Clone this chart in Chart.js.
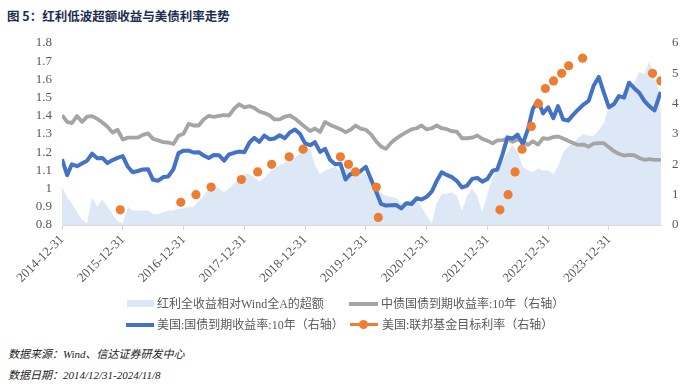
<!DOCTYPE html>
<html>
<head>
<meta charset="utf-8">
<script src="https://cdn.jsdelivr.net/npm/chart.js@4.4.1/dist/chart.umd.min.js"></script>
<style>
  body { margin: 0; background: #fff; width: 700px; height: 389px; position: relative; overflow: hidden; font-family: "Noto Sans CJK SC", sans-serif; }
  #title { position: absolute; left: 7px; top: 6px; font-size: 12.5px; font-weight: bold; color: #1c2d4f; white-space: nowrap; }
  #chartBox { position: absolute; left: 0; top: 0; width: 700px; height: 300px; }
  .sw { position: absolute; }
  .lg { position: absolute; font-family: "Liberation Serif", "Noto Sans CJK SC", serif; font-size: 12px; color: #595959; line-height: 16px; white-space: nowrap; }
  .note { position: absolute; left: 8px; font-family: "Liberation Serif", "Noto Sans CJK SC", serif; font-style: italic; font-size: 11px; color: #222; line-height: 14px; white-space: nowrap; }
</style>
</head>
<body>
<div id="title">图 5：红利低波超额收益与美债利率走势</div>
<div id="chartBox"><canvas id="chart" width="700" height="300"></canvas></div>

<div class="sw" style="left:127px;top:300px;width:27px;height:7px;background:#dce8f5"></div>
<div class="lg" style="left:157px;top:296px">红利全收益相对Wind全A的超额</div>
<div class="sw" style="left:349px;top:302px;width:29px;height:4px;background:#a5a5a5"></div>
<div class="lg" style="left:381px;top:296px">中债国债到期收益率:10年（右轴）</div>

<div class="sw" style="left:126px;top:323px;width:28px;height:4px;background:#4472c4"></div>
<div class="lg" style="left:157px;top:317px">美国:国债到期收益率:10年（右轴）</div>
<div class="sw" style="left:350px;top:323px;width:28px;height:3px;background:#ed7d31"></div>
<div class="sw" style="left:359px;top:320px;width:9px;height:9px;border-radius:50%;background:#ed7d31"></div>
<div class="lg" style="left:382px;top:317px">美国:联邦基金目标利率（右轴）</div>

<div class="note" style="top:347px">数据来源：Wind、信达证券研发中心</div>
<div class="note" style="top:368px">数据日期：2014/12/31-2024/11/8</div>

<script>
// x tick labels (year ends)
const tickLabels = ['2014-12-31', '2015-12-31', '2016-12-31', '2017-12-31', '2018-12-31',
  '2019-12-31', '2020-12-31', '2021-12-31', '2022-12-31', '2023-12-31'];
const leftTicks = [0.8, 0.9, 1, 1.1, 1.2, 1.3, 1.4, 1.5, 1.6, 1.7, 1.8];
const rightTicks = [0, 1, 2, 3, 4, 5, 6];

const startDate = '2014-12-31';
const lastDate = '2024-11-08';

// month-end readings, 2014-12 .. 2024-10, then the last day 2024-11-08
const excessReturn = [1.01,
  0.95, 0.92, 0.87, 0.83, 0.81, 0.95, 0.90, 0.94, 0.90, 0.86, 0.82, 0.81,
  0.90, 0.88, 0.88, 0.88, 0.88, 0.86, 0.86, 0.87, 0.88, 0.88, 0.89, 0.89,
  0.90, 0.90, 0.93, 0.96, 1.00, 1.02, 1.00, 0.98, 1.00, 1.03, 1.05, 1.08,
  1.08, 1.06, 1.04, 1.06, 1.09, 1.11, 1.13, 1.14, 1.16, 1.17, 1.19, 1.21,
  1.22, 1.13, 1.08, 1.10, 1.11, 1.12, 1.09, 1.11, 1.11, 1.10, 1.09, 1.08,
  1.03, 1.00, 0.98, 0.96, 0.955, 0.95, 0.92, 0.93, 0.94, 0.94, 0.90, 0.85,
  0.81, 0.92, 0.97, 0.97, 0.98, 0.96, 0.88, 0.96, 1.00, 0.96, 0.87, 0.97,
  1.06, 1.10, 1.15, 1.20, 1.24, 1.20, 1.12, 1.10, 1.09, 1.11, 1.10, 1.10,
  1.08, 1.12, 1.20, 1.23, 1.25, 1.28, 1.30, 1.29, 1.29, 1.32, 1.36, 1.45,
  1.49, 1.51, 1.54, 1.56, 1.58, 1.64, 1.63, 1.70, 1.62, 1.52,
  1.38];

const cnYield = [3.62,
  3.40, 3.36, 3.59, 3.40, 3.57, 3.59, 3.50, 3.38, 3.24, 3.05, 3.14, 2.82,
  2.88, 2.88, 2.88, 2.97, 3.02, 2.84, 2.79, 2.73, 2.72, 2.67, 2.94, 3.01,
  3.34, 3.28, 3.28, 3.48, 3.60, 3.56, 3.60, 3.62, 3.61, 3.84, 3.98, 3.88,
  3.92, 3.86, 3.74, 3.69, 3.62, 3.48, 3.48, 3.57, 3.61, 3.51, 3.37, 3.23,
  3.10, 3.18, 3.07, 3.40, 3.30, 3.23, 3.16, 3.06, 3.14, 3.28, 3.18, 3.14,
  2.99, 2.77, 2.59, 2.51, 2.71, 2.85, 2.96, 3.06, 3.15, 3.19, 3.28, 3.15,
  3.19, 3.28, 3.19, 3.16, 3.09, 3.08, 2.86, 2.86, 2.88, 2.95, 2.84, 2.78,
  2.69, 2.79, 2.80, 2.84, 2.74, 2.82, 2.76, 2.64, 2.76, 2.65, 2.86, 2.84,
  2.90, 2.92, 2.85, 2.78, 2.70, 2.64, 2.65, 2.58, 2.68, 2.70, 2.70, 2.56,
  2.43, 2.35, 2.29, 2.31, 2.30, 2.21, 2.15, 2.17, 2.15, 2.15,
  2.12];

const usYield = [2.17,
  1.64, 2.00, 1.94, 2.03, 2.12, 2.35, 2.20, 2.21, 2.04, 2.14, 2.21, 2.27,
  1.92, 1.74, 1.78, 1.83, 1.84, 1.49, 1.46, 1.58, 1.60, 1.84, 2.37, 2.45,
  2.45, 2.39, 2.40, 2.29, 2.21, 2.31, 2.30, 2.12, 2.33, 2.38, 2.42, 2.40,
  2.72, 2.87, 2.74, 2.95, 2.83, 2.85, 2.96, 2.86, 3.05, 3.15, 3.01, 2.69,
  2.63, 2.73, 2.41, 2.51, 2.14, 2.00, 2.02, 1.50, 1.68, 1.69, 1.78, 1.92,
  1.51, 1.13, 0.70, 0.64, 0.65, 0.66, 0.55, 0.72, 0.69, 0.88, 0.84, 0.93,
  1.11, 1.44, 1.74, 1.65, 1.58, 1.45, 1.24, 1.30, 1.52, 1.55, 1.43, 1.52,
  1.79, 1.83, 2.32, 2.89, 2.85, 2.98, 2.67, 3.15, 3.83, 4.10, 3.68, 3.88,
  3.52, 3.92, 3.48, 3.44, 3.64, 3.81, 3.97, 4.09, 4.59, 4.88, 4.37, 3.88,
  3.99, 4.25, 4.20, 4.69, 4.51, 4.36, 4.09, 3.91, 3.78, 4.28,
  4.38];

// fed funds target (upper bound) at each change
const fedDates = ['2015-12-16', '2016-12-14', '2017-03-15', '2017-06-14', '2017-12-13',
  '2018-03-21', '2018-06-13', '2018-09-26', '2018-12-19', '2019-07-31', '2019-09-18',
  '2019-10-30', '2020-03-03', '2020-03-15', '2022-03-16', '2022-05-04', '2022-06-15',
  '2022-07-27', '2022-09-21', '2022-11-02', '2022-12-14', '2023-02-01', '2023-03-22',
  '2023-05-03', '2023-07-26', '2024-09-18', '2024-11-07'];
const fedRate = [0.5, 0.75, 1.0, 1.25, 1.5, 1.75, 2.0, 2.25, 2.5, 2.25, 2.0, 1.75, 1.25, 0.25,
  0.5, 1.0, 1.75, 2.5, 3.25, 4.0, 4.5, 4.75, 5.0, 5.25, 5.5, 5.0, 4.75];

const tickFont = { family: 'Liberation Serif', size: 13 };
const tickColor = '#595959';

// x positions of the monthly readings: month ends, last one is the final date
const lineX = usYield.map((v, i) => i < usYield.length - 1 ? Date.UTC(2015, i, 0) : Date.parse(lastDate));
const toPoints = vals => vals.map((v, i) => ({ x: lineX[i], y: v }));

new Chart(document.getElementById('chart'), {
  type: 'line',
  data: {
    datasets: [
      {
        label: '美国:联邦基金目标利率（右轴）',
        data: fedDates.map((d, i) => ({ x: Date.parse(d), y: fedRate[i] })),
        yAxisID: 'yR',
        showLine: false,
        pointRadius: 4.6,
        pointBorderWidth: 0,
        pointBackgroundColor: '#ed7d31',
        borderColor: '#ed7d31',
        order: 0
      },
      {
        label: '美国:国债到期收益率:10年（右轴）',
        data: toPoints(usYield),
        yAxisID: 'yR',
        borderColor: '#4472c4',
        borderWidth: 4,
        borderJoinStyle: 'round',
        pointRadius: 0,
        tension: 0,
        order: 1
      },
      {
        label: '中债国债到期收益率:10年（右轴）',
        data: toPoints(cnYield),
        yAxisID: 'yR',
        borderColor: '#a5a5a5',
        borderWidth: 3.8,
        borderJoinStyle: 'round',
        pointRadius: 0,
        tension: 0,
        order: 2
      },
      {
        label: '红利全收益相对Wind全A的超额',
        data: toPoints(excessReturn),
        yAxisID: 'yL',
        backgroundColor: '#dce8f5',
        borderWidth: 0,
        pointRadius: 0,
        fill: 'start',
        tension: 0,
        order: 3
      }
    ]
  },
  options: {
    responsive: false,
    animation: false,
    devicePixelRatio: 1,
    layout: { padding: { top: 43, left: 0, right: 0, bottom: 0 } },
    plugins: { legend: { display: false }, tooltip: { enabled: false } },
    scales: {
      x: {
        type: 'linear',
        min: Date.parse(startDate),
        max: Date.parse(lastDate),
        afterBuildTicks: scale => { scale.ticks = tickLabels.map(s => ({ value: Date.parse(s) })); },
        afterFit: scale => { scale.height = 75; },
        ticks: {
          autoSkip: false,
          minRotation: 45,
          maxRotation: 45,
          padding: 2,
          font: tickFont,
          color: tickColor,
          callback: (v, i) => tickLabels[i]
        },
        grid: { drawOnChartArea: false, drawTicks: true, tickLength: 5, color: '#d9d9d9' },
        border: { color: '#d9d9d9', width: 1 }
      },
      yL: {
        type: 'linear',
        position: 'left',
        min: 0.8,
        max: 1.8,
        afterBuildTicks: scale => { scale.ticks = leftTicks.map(v => ({ value: v })); },
        afterFit: scale => { scale.width = 62; },
        ticks: { autoSkip: false, padding: 10, font: tickFont, color: tickColor, callback: v => String(v) },
        grid: { display: false, drawTicks: false },
        border: { display: false }
      },
      yR: {
        type: 'linear',
        position: 'right',
        min: 0,
        max: 6,
        afterBuildTicks: scale => { scale.ticks = rightTicks.map(v => ({ value: v })); },
        afterFit: scale => { scale.width = 39; },
        ticks: { autoSkip: false, padding: 11, font: tickFont, color: tickColor, callback: v => String(v) },
        grid: { display: false, drawTicks: false },
        border: { display: false }
      }
    }
  }
});
</script>
</body>
</html>
